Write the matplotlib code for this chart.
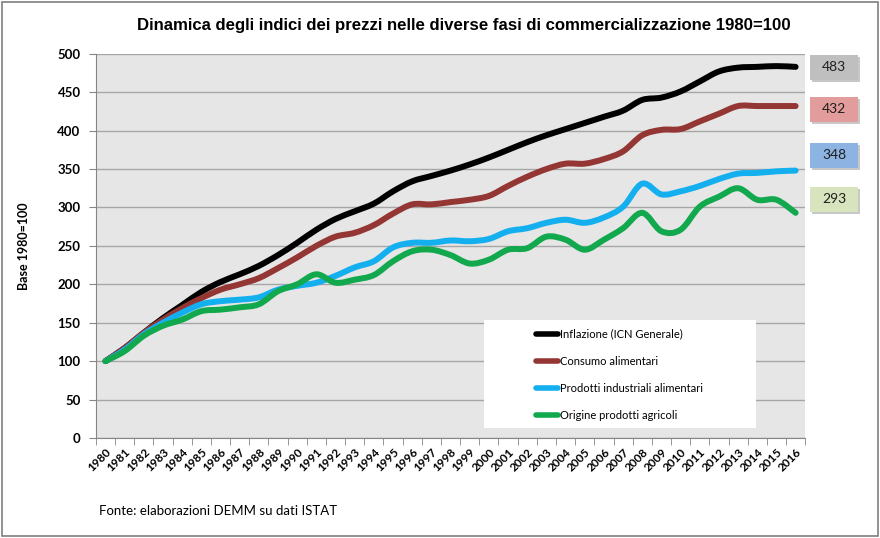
import matplotlib
matplotlib.use("Agg")
import matplotlib.pyplot as plt
from matplotlib.path import Path
from matplotlib.patches import PathPatch, Rectangle
from matplotlib.lines import Line2D

# dati (indici 1980=100)
anni = list(range(1980, 2017))
inflazione = [100, 117, 137, 156, 173, 190, 203, 213, 224, 238, 254, 271, 285, 295, 305,
              321, 334, 341, 348, 356, 365, 375, 385, 394, 402, 410, 418, 426, 440, 443,
              451, 464, 477, 482, 483, 484, 483]
consumo = [100, 117, 137, 154, 169, 182, 193, 200, 208, 221, 235, 250, 262, 267, 277,
           292, 304, 304, 307, 310, 315, 328, 340, 350, 357, 357, 363, 373, 394, 401,
           402, 412, 422, 432, 432, 432, 432]
industriali = [100, 115, 135, 150, 163, 174, 178, 180, 183, 193, 198, 202, 211, 222, 230,
               248, 254, 254, 257, 256, 259, 269, 273, 280, 284, 280, 287, 301, 331, 317,
               321, 328, 337, 344, 345, 347, 348]
agricoli = [100, 113, 133, 146, 154, 165, 167, 170, 174, 191, 200, 213, 202, 206, 212,
            230, 243, 245, 238, 227, 232, 245, 247, 262, 258, 245, 258, 273, 293, 269,
            271, 301, 314, 325, 310, 310, 293]

serie = [
    ("Inflazione (ICN Generale)", inflazione, "#000000"),
    ("Consumo alimentari", consumo, "#943634"),
    ("Prodotti industriali alimentari", industriali, "#14AFEF"),
    ("Origine prodotti agricoli", agricoli, "#12A84E"),
]
etichette = [("483", "#BFBFBF"), ("432", "#E39C9C"), ("348", "#8DB3E2"), ("293", "#D7E4BD")]

font_num = ["Lato", "DejaVu Sans"]


def linea_smussata(xs, ys):
    # curva tipo "linea smussata" di Excel con segmenti di Bezier
    pts = list(zip(xs, ys))
    verts = [pts[0]]
    codes = [Path.MOVETO]
    n = len(pts)
    for i in range(n - 1):
        p0 = pts[i - 1] if i > 0 else pts[i]
        p1 = pts[i]
        p2 = pts[i + 1]
        p3 = pts[i + 2] if i + 2 < n else pts[i + 1]
        c1 = (p1[0] + (p2[0] - p0[0]) / 6, p1[1] + (p2[1] - p0[1]) / 6)
        c2 = (p2[0] - (p3[0] - p1[0]) / 6, p2[1] - (p3[1] - p1[1]) / 6)
        verts += [c1, c2, p2]
        codes += [Path.CURVE4] * 3
    return Path(verts, codes)


fig = plt.figure(figsize=(8.8, 5.38), dpi=100)
fig.patches.append(Rectangle((0.002, 0.003), 0.996, 0.994, transform=fig.transFigure,
                             facecolor="white", edgecolor="#7F7F7F", linewidth=1.2, zorder=-10))
ax = fig.add_axes([0.109, 0.186, 0.806, 0.714])
ax.set_facecolor("#E6E6E6")

x = list(range(len(anni)))
handles = []
for nome, valori, col in serie:
    p = PathPatch(linea_smussata(x, valori), facecolor="none", edgecolor=col,
                  linewidth=4.3, capstyle="round", joinstyle="round", zorder=3)
    ax.add_patch(p)
    handles.append(Line2D([], [], color=col, linewidth=4.0, solid_capstyle="round"))

ax.set_xlim(-0.5, len(anni) - 0.5)
ax.set_ylim(0, 500)
ax.set_yticks(range(0, 501, 50))
ax.grid(axis="y", color="#A6A6A6", linewidth=1.0, zorder=0)
ax.set_axisbelow(True)

ax.set_xticks(x)
ax.set_xticklabels([str(a) for a in anni], rotation=45, ha="right", va="top",
                   rotation_mode="anchor", fontsize=8.5, fontweight="bold", family=font_num)
ax.set_xticks([i - 0.5 for i in range(len(anni) + 1)], minor=True)
ax.tick_params(axis="x", which="major", length=0, pad=6)
ax.tick_params(axis="x", which="minor", length=5, color="#868686", direction="out")
ax.tick_params(axis="y", length=5, color="#868686", pad=6)
for t in ax.get_yticklabels():
    t.set_fontsize(9.5)
    t.set_fontweight("bold")
    t.set_family(font_num)

for s in ["top", "right"]:
    ax.spines[s].set_visible(False)
for s in ["left", "bottom"]:
    ax.spines[s].set_color("#868686")

ax.set_ylabel("Base 1980=100", fontsize=9, fontweight="bold", family=font_num, labelpad=20)

# riquadro bianco della legenda
ax.add_patch(Rectangle((0.547, 0.026), 0.384, 0.281, transform=ax.transAxes,
                       facecolor="white", edgecolor="none", zorder=4))
leg = ax.legend(handles, [s[0] for s in serie], loc="upper left",
                bbox_to_anchor=(0.620, 0.285), frameon=False, borderaxespad=0,
                borderpad=0, handlelength=2.0, handletextpad=0.15, labelspacing=1.45,
                prop={"family": font_num, "size": 8})
leg.set_zorder(5)

fig.text(0.527, 0.953, "Dinamica degli indici dei prezzi nelle diverse fasi di commercializzazione 1980=100",
         ha="center", va="center", fontsize=12.1, fontweight="bold",
         family=["Liberation Sans", "DejaVu Sans"])

# riquadri con i valori finali
centri_y = [67, 109, 155, 199]
for (txt, col), yc in zip(etichette, centri_y):
    x0, w, h = 810, 48, 25
    yb = 538 - yc - h / 2
    fig.patches.append(Rectangle(((x0 + 2) / 880, (yb - 2) / 538), w / 880, h / 538,
                                 transform=fig.transFigure, facecolor="#C8C8C8",
                                 edgecolor="none", zorder=1))
    fig.patches.append(Rectangle((x0 / 880, yb / 538), w / 880, h / 538,
                                 transform=fig.transFigure, facecolor=col,
                                 edgecolor="none", zorder=2))
    fig.text((x0 + w / 2) / 880, 1 - yc / 538, txt, ha="center", va="center",
             fontsize=10, family=font_num, color="#1F1F1F", zorder=3)

fig.text(0.112, 0.051, "Fonte: elaborazioni DEMM su dati ISTAT", fontsize=9.5, family=font_num,
         ha="left", va="center")

fig.savefig("out.png", dpi=100)
